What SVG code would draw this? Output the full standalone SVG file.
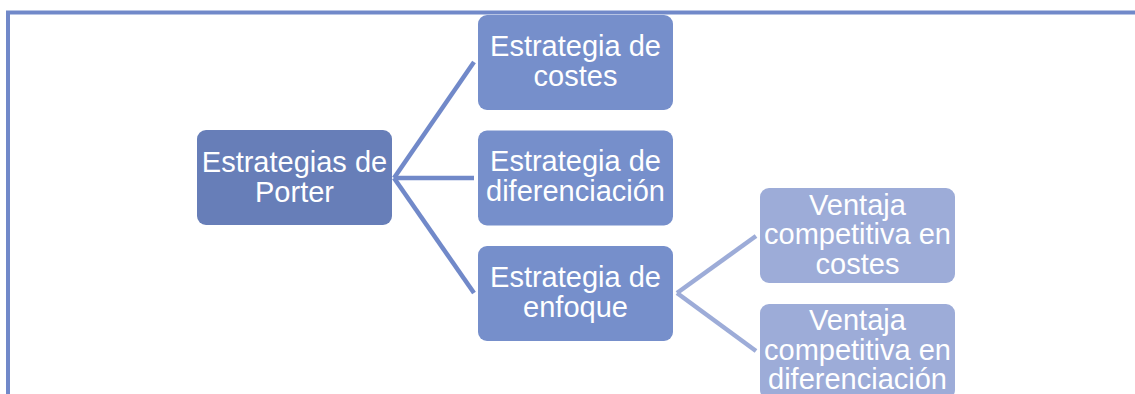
<svg xmlns="http://www.w3.org/2000/svg" width="1135" height="394" viewBox="0 0 1135 394">
<style>
.t{font-family:"Liberation Sans",Arial,sans-serif;font-size:29px;fill:#fff;text-anchor:middle}
.root{fill:#677EB8}
.l1{fill:#768FCB}
.l2{fill:#9DACD8}
.c1{stroke:#7189C9;stroke-width:4.5;fill:none}
.c2{stroke:#9DACD8;stroke-width:4.5;fill:none}
</style>
<rect width="1135" height="394" fill="#fff"/>
<path d="M8,394 V12.5 H1135" fill="none" stroke="#7189C9" stroke-width="4"/>
<g id="connectors">
<path class="c1" d="M394,178 L474,62"/>
<path class="c1" d="M394,178 L474,178"/>
<path class="c1" d="M394,178 L474,293"/>
<path class="c2" d="M677,293 L756,236"/>
<path class="c2" d="M677,293 L756,351"/>
</g>
<g id="n-root">
<rect class="root" x="197" y="130" width="195" height="95" rx="9"/>
<text class="t" x="294.5" y="171.5">Estrategias de</text>
<text class="t" x="294.5" y="201.5">Porter</text>
</g>
<g id="n-costes">
<rect class="l1" x="478" y="15" width="195" height="95" rx="9"/>
<text class="t" x="575.5" y="55.5">Estrategia de</text>
<text class="t" x="575.5" y="86">costes</text>
</g>
<g id="n-dif">
<rect class="l1" x="478" y="130.5" width="195" height="95" rx="9"/>
<text class="t" x="575.5" y="171">Estrategia de</text>
<text class="t" x="575.5" y="201">diferenciación</text>
</g>
<g id="n-enfoque">
<rect class="l1" x="478" y="246" width="195" height="95" rx="9"/>
<text class="t" x="575.5" y="286.5">Estrategia de</text>
<text class="t" x="575.5" y="316.5">enfoque</text>
</g>
<g id="n-vcostes">
<rect class="l2" x="760" y="188" width="195" height="95" rx="9"/>
<text class="t" x="857.5" y="214.5">Ventaja</text>
<text class="t" x="857.5" y="244">competitiva en</text>
<text class="t" x="857.5" y="273.5">costes</text>
</g>
<g id="n-vdif">
<rect class="l2" x="760" y="304" width="195" height="95" rx="9"/>
<text class="t" x="857.5" y="329.5">Ventaja</text>
<text class="t" x="857.5" y="359.5">competitiva en</text>
<text class="t" x="857.5" y="389">diferenciación</text>
</g>
</svg>
